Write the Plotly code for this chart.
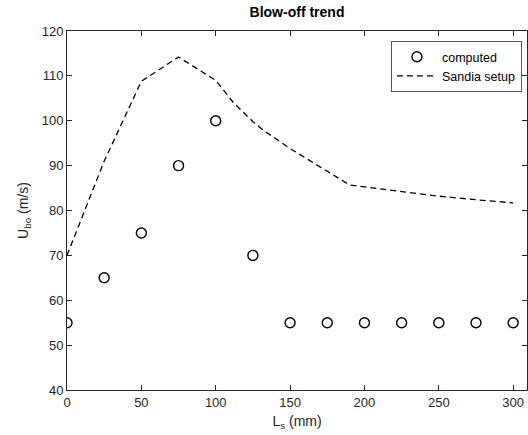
import plotly.graph_objects as go

# Data
computed_x = [0, 25, 50, 75, 100, 125, 150, 175, 200, 225, 250, 275, 300]
computed_y = [55, 65, 75, 90, 100, 70, 55, 55, 55, 55, 55, 55, 55]

sandia_x = [0, 25, 50, 75, 100, 112, 125, 132, 150, 175, 190, 225, 250, 275, 300]
sandia_y = [70, 91, 108.8, 114.2, 109, 104, 99.8, 97.9, 93.8, 88.8, 85.7, 84.2, 83.2, 82.4, 81.7]

x_ticks = [0, 50, 100, 150, 200, 250, 300]
y_ticks = [40, 50, 60, 70, 80, 90, 100, 110, 120]

axis_col = "#262626"
font_fam = "Liberation Sans, Arial, sans-serif"

fig = go.Figure()
fig.add_trace(go.Scatter(
    x=computed_x, y=computed_y, mode="markers", name="computed",
    marker=dict(symbol="circle-open", size=10, color="black", line=dict(width=1.4, color="black")),
))
fig.add_trace(go.Scatter(
    x=sandia_x, y=sandia_y, mode="lines", name="Sandia setup",
    line=dict(color="black", width=1.3, dash="6px,4px"),
))

fig.update_layout(
    width=528, height=435,
    margin=dict(l=67, r=1, t=31, b=45),
    paper_bgcolor="white", plot_bgcolor="white",
    font=dict(family=font_fam, size=13, color=axis_col),
    title=dict(text="<b>Blow-off trend</b>", x=(67 + 527) / 2 / 528, xanchor="center",
               y=1 - 12 / 435, yanchor="middle",
               font=dict(family=font_fam, size=14, color="black")),
    showlegend=True,
    legend=dict(x=0.989, y=0.972, xanchor="right", yanchor="top",
                bgcolor="white", bordercolor="#555555", borderwidth=1,
                font=dict(family=font_fam, size=12.5, color="black"),
                tracegroupgap=0, itemwidth=40),
)
fig.update_xaxes(
    range=[0, 309.3], tickvals=x_ticks, ticktext=[str(v) for v in x_ticks],
    showline=True, linecolor=axis_col, linewidth=1, mirror="ticks",
    ticks="inside", ticklen=5, tickcolor=axis_col, showgrid=False, zeroline=False,
    title=dict(text="L<sub>s</sub> (mm)", standoff=7, font=dict(size=14, color=axis_col)),
    tickfont=dict(size=13, color=axis_col),
)
fig.update_yaxes(
    range=[40, 120], tickvals=y_ticks, ticktext=[str(v) for v in y_ticks],
    showline=True, linecolor=axis_col, linewidth=1, mirror="ticks",
    ticks="inside", ticklen=5, tickcolor=axis_col, showgrid=False, zeroline=False,
    title=dict(text="U<sub>bo</sub> (m/s)", standoff=9, font=dict(size=14, color=axis_col)),
    tickfont=dict(size=13, color=axis_col),
)

fig.write_html("out.html")
